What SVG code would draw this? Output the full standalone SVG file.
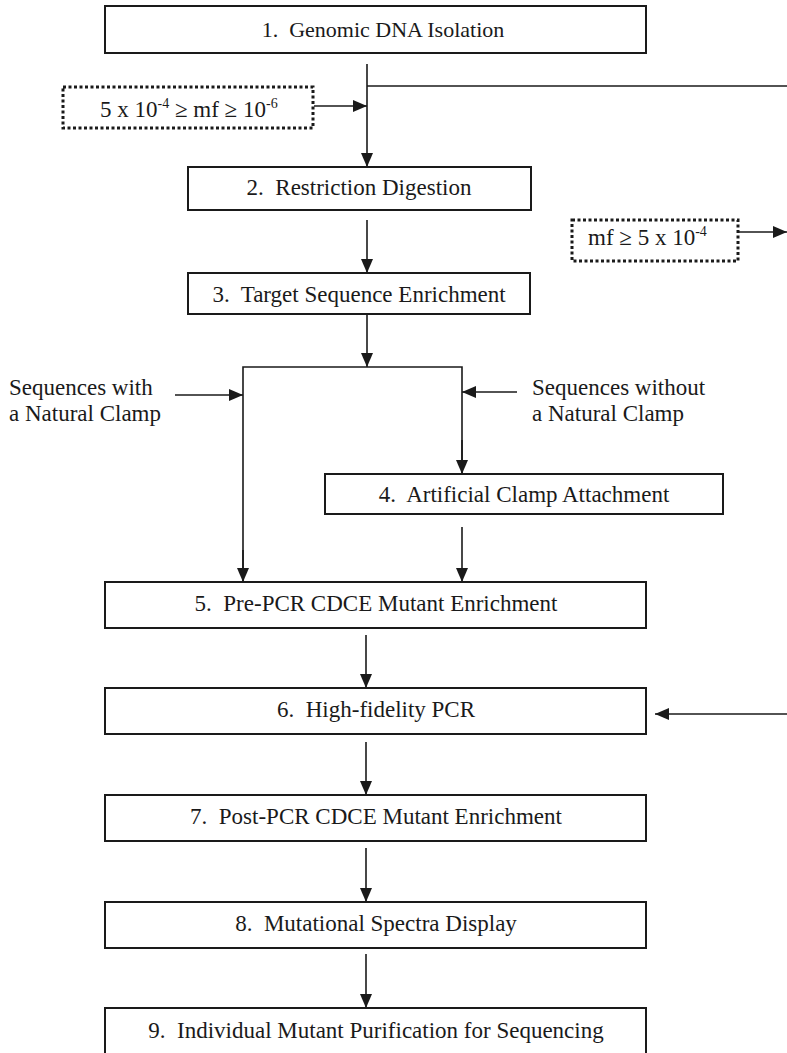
<svg xmlns="http://www.w3.org/2000/svg" width="787" height="1053" viewBox="0 0 787 1053">
<style>
text{font-family:"Liberation Serif","Times New Roman",serif;font-size:23px;fill:#1a1a1a;white-space:pre}
.box{fill:#fff;stroke:#1a1a1a;stroke-width:2}
.dot{fill:#fff;stroke:#1a1a1a;stroke-width:3;stroke-dasharray:3 2.5}
.c{text-anchor:middle}
.ln{fill:none;stroke:#1a1a1a;stroke-width:1.6}
.sup{font-size:14px}
</style>
<defs>
<marker id="ah" viewBox="0 0 14 12" refX="14" refY="6" markerWidth="14" markerHeight="12" markerUnits="userSpaceOnUse" orient="auto">
<path d="M0,0 L14,6 L0,12 Z" fill="#1a1a1a"/>
</marker>
</defs>
<g id="connectors">
<line class="ln" x1="367" y1="64" x2="367" y2="167" marker-end="url(#ah)"/>
<line class="ln" x1="367" y1="86" x2="787" y2="86"/>
<line class="ln" x1="314" y1="106" x2="367" y2="106" marker-end="url(#ah)"/>
<line class="ln" x1="367" y1="220" x2="367" y2="273" marker-end="url(#ah)"/>
<line class="ln" x1="739" y1="232" x2="787" y2="232" marker-end="url(#ah)"/>
<line class="ln" x1="367" y1="315" x2="367" y2="367" marker-end="url(#ah)"/>
<polyline class="ln" points="243,582 243,367 462,367 462,474"/>
<line class="ln" x1="243" y1="550" x2="243" y2="582" marker-end="url(#ah)"/>
<line class="ln" x1="462" y1="440" x2="462" y2="474" marker-end="url(#ah)"/>
<line class="ln" x1="175" y1="395" x2="243" y2="395" marker-end="url(#ah)"/>
<line class="ln" x1="517" y1="392" x2="462" y2="392" marker-end="url(#ah)"/>
<line class="ln" x1="462" y1="527" x2="462" y2="582" marker-end="url(#ah)"/>
<line class="ln" x1="366" y1="635" x2="366" y2="688" marker-end="url(#ah)"/>
<line class="ln" x1="787" y1="714" x2="655" y2="714" marker-end="url(#ah)"/>
<line class="ln" x1="366" y1="742" x2="366" y2="795" marker-end="url(#ah)"/>
<line class="ln" x1="366" y1="848" x2="366" y2="902" marker-end="url(#ah)"/>
<line class="ln" x1="366" y1="954" x2="366" y2="1008" marker-end="url(#ah)"/>
</g>
<g id="n1"><rect class="box" x="105" y="6" width="541" height="47"/><text class="c" x="383" y="37" style="font-size:22px">1.  Genomic DNA Isolation</text></g>
<g id="mf1"><rect class="dot" x="63" y="87" width="250" height="41"/><text x="100" y="117">5 x 10<tspan class="sup" dy="-9">-4</tspan><tspan dy="9"> ≥ mf ≥ 10</tspan><tspan class="sup" dy="-9">-6</tspan></text></g>
<g id="n2"><rect class="box" x="188" y="167" width="343" height="43"/><text class="c" x="359" y="195">2.  Restriction Digestion</text></g>
<g id="mf2"><rect class="dot" x="572" y="220" width="166" height="41"/><text x="588" y="245">mf ≥ 5 x 10<tspan class="sup" dy="-9">-4</tspan></text></g>
<g id="n3"><rect class="box" x="188" y="273" width="342" height="41"/><text class="c" x="359" y="302">3.  Target Sequence Enrichment</text></g>
<g id="lab1"><text x="9" y="395">Sequences with</text><text x="9" y="421">a Natural Clamp</text></g>
<g id="lab2"><text x="532" y="395">Sequences without</text><text x="532" y="421">a Natural Clamp</text></g>
<g id="n4"><rect class="box" x="325" y="474" width="398" height="40"/><text class="c" x="524" y="502">4.  Artificial Clamp Attachment</text></g>
<g id="n5"><rect class="box" x="105" y="582" width="541" height="46"/><text class="c" x="376" y="611">5.  Pre-PCR CDCE Mutant Enrichment</text></g>
<g id="n6"><rect class="box" x="105" y="688" width="541" height="46"/><text class="c" x="376" y="717">6.  High-fidelity PCR</text></g>
<g id="n7"><rect class="box" x="105" y="795" width="541" height="46"/><text class="c" x="376" y="824">7.  Post-PCR CDCE Mutant Enrichment</text></g>
<g id="n8"><rect class="box" x="105" y="902" width="541" height="46"/><text class="c" x="376" y="931">8.  Mutational Spectra Display</text></g>
<g id="n9"><rect class="box" x="105" y="1008" width="541" height="60"/><text class="c" x="376" y="1038">9.  Individual Mutant Purification for Sequencing</text></g>
</svg>
